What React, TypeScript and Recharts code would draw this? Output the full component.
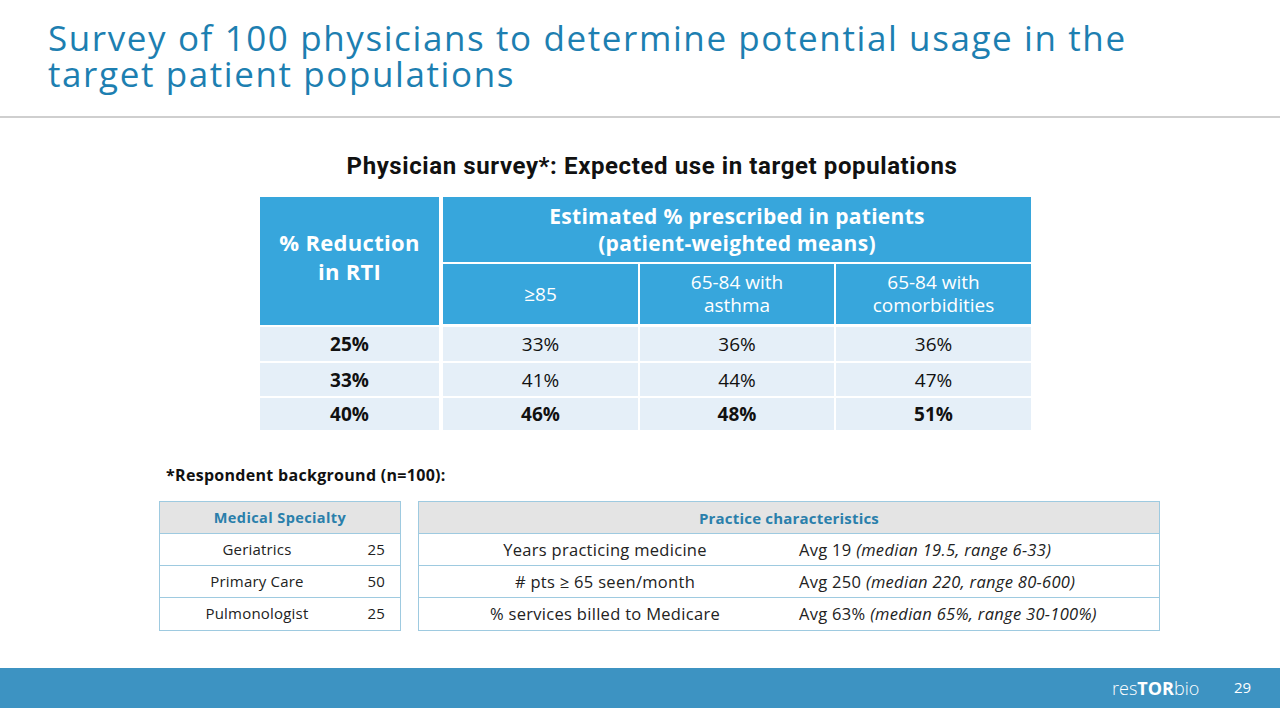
import React from 'react';
import { Surface } from 'recharts';

const titleLines = ['Survey of 100 physicians to determine potential usage in the', 'target patient populations'];
const rtiLevels = ['25%', '33%', '40%'];
const groups = ['≥85', '65-84 with\nasthma', '65-84 with\ncomorbidities'];
const prescribed = [
  ['33%', '36%', '36%'],
  ['41%', '44%', '47%'],
  ['46%', '48%', '51%'],
];
const specialties = ['Geriatrics', 'Primary Care', 'Pulmonologist'];
const specialtyCounts = [25, 50, 25];
const practiceLabels = ['Years practicing medicine', '# pts ≥ 65 seen/month', '% services billed to Medicare'];
const practiceAvg = ['Avg 19', 'Avg 250', 'Avg 63%'];
const practiceDetail = ['(median 19.5, range 6-33)', '(median 220, range 80-600)', '(median 65%, range 30-100%)'];

const FONT = '"Open Sans", Lato, sans-serif';
const BLUE_HEAD = '#37a6dc';
const ROW_BG = '#e5eff8';
const BORDER = '#9ecae0';

const colLeft = [260, 441, 638, 834];
const colW = [181, 197, 196, 197];
const dataTop = [325, 361, 396];
const dataH = [36, 35, 34];

function Cell({ x, y, w, h, bg, children, style }: any) {
  return (
    <div
      style={{
        position: 'absolute',
        left: x,
        top: y,
        width: w,
        height: h,
        background: bg,
        boxSizing: 'border-box',
        display: 'flex',
        alignItems: 'center',
        justifyContent: 'center',
        textAlign: 'center',
        whiteSpace: 'pre-line',
        ...style,
      }}
    >
      {children}
    </div>
  );
}

export default function App() {
  return (
    <div
      style={{
        position: 'absolute',
        left: 0,
        top: 0,
        width: 1280,
        height: 720,
        background: '#fff',
        fontFamily: FONT,
        overflow: 'hidden',
      }}
    >
      {/* title, one svg text block */}
      <div style={{ position: 'absolute', left: 0, top: 0 }}>
        <Surface width={1280} height={110}>
          <text fill="#1d7fb1" fontSize={35} fontFamily={FONT} letterSpacing={1.6}>
            {titleLines.map((t, i) => (
              <tspan key={i} x={48} y={51 + i * 36}>
                {t}
              </tspan>
            ))}
          </text>
        </Surface>
      </div>
      <div style={{ position: 'absolute', left: 0, top: 116, width: 1280, height: 2, background: '#cfcfcf' }} />

      <div
        style={{
          position: 'absolute',
          left: 0,
          width: 1304,
          top: 152,
          textAlign: 'center',
          fontSize: 24,
          fontWeight: 700,
          letterSpacing: 0.6,
          fontFamily: 'Roboto, sans-serif',
          color: '#111',
        }}
      >
        Physician survey*: Expected use in target populations
      </div>

      {/* main table header */}
      <Cell x={colLeft[0]} y={197} w={colW[0] - 2} h={128} bg={BLUE_HEAD}
        style={{ color: '#fff', fontWeight: 700, fontSize: 22, lineHeight: '29px', paddingBottom: 8, letterSpacing: 0.3 }}>
        {'% Reduction\nin RTI'}
      </Cell>
      <Cell x={colLeft[1] + 2} y={197} w={1031 - colLeft[1] - 2} h={65} bg={BLUE_HEAD}
        style={{ color: '#fff', fontWeight: 700, fontSize: 21, lineHeight: '27px', letterSpacing: 0.3 }}>
        {'Estimated % prescribed in patients\n(patient-weighted means)'}
      </Cell>
      {groups.map((g, i) => (
        <Cell key={g} x={colLeft[i + 1] + 2} y={264} w={colW[i + 1] - 2} h={60} bg={BLUE_HEAD}
          style={{ color: '#fff', fontSize: 19, lineHeight: '23px' }}>
          {g}
        </Cell>
      ))}
      {rtiLevels.map((r, ri) => (
        <React.Fragment key={r}>
          <Cell x={colLeft[0]} y={dataTop[ri] + 2} w={colW[0] - 2} h={dataH[ri] - 2} bg={ROW_BG}
            style={{ fontWeight: 700, fontSize: 19, color: '#111' }}>
            {r}
          </Cell>
          {prescribed[ri].map((v, ci) => (
            <Cell key={ci} x={colLeft[ci + 1] + 2} y={dataTop[ri] + 2} w={colW[ci + 1] - 2} h={dataH[ri] - 2} bg={ROW_BG}
              style={{ fontWeight: ri === 2 ? 700 : 400, fontSize: 19, color: '#111' }}>
              {v}
            </Cell>
          ))}
        </React.Fragment>
      ))}

      <div style={{ position: 'absolute', left: 166, top: 464, fontSize: 16, fontWeight: 700, color: '#111', letterSpacing: 0.3 }}>
        *Respondent background (n=100):
      </div>

      {/* medical specialty table */}
      <div style={{ position: 'absolute', left: 159, top: 501, width: 242, height: 130, border: `1px solid ${BORDER}`, boxSizing: 'border-box' }}>
        <div style={{ height: 32, background: '#e4e4e4', borderBottom: `1px solid ${BORDER}`, boxSizing: 'border-box', display: 'flex', alignItems: 'center', justifyContent: 'center', color: '#2a7fab', fontWeight: 700, fontSize: 14.5, letterSpacing: 0.4 }}>
          Medical Specialty
        </div>
        {specialties.map((s, i) => (
          <div key={s} style={{ position: 'relative', height: 32, borderBottom: i < 2 ? `1px solid ${BORDER}` : 'none', boxSizing: 'border-box', fontSize: 15, color: '#222', letterSpacing: 0.2 }}>
            <span style={{ position: 'absolute', left: 0, width: 194, textAlign: 'center', top: 5 }}>{s}</span>
            <span style={{ position: 'absolute', right: 15, top: 5 }}>{specialtyCounts[i]}</span>
          </div>
        ))}
      </div>

      {/* practice characteristics table */}
      <div style={{ position: 'absolute', left: 418, top: 501, width: 742, height: 130, border: `1px solid ${BORDER}`, boxSizing: 'border-box' }}>
        <div style={{ height: 32, background: '#e4e4e4', borderBottom: `1px solid ${BORDER}`, boxSizing: 'border-box', display: 'flex', alignItems: 'center', justifyContent: 'center', color: '#2a7fab', fontWeight: 700, fontSize: 15, letterSpacing: 0.2 }}>
          Practice characteristics
        </div>
        {practiceLabels.map((p, i) => (
          <div key={p} style={{ position: 'relative', height: 32, borderBottom: i < 2 ? `1px solid ${BORDER}` : 'none', boxSizing: 'border-box', fontSize: 16.5, color: '#222', letterSpacing: 0.3 }}>
            <span style={{ position: 'absolute', left: 0, width: 372, textAlign: 'center', top: 4 }}>{p}</span>
            <span style={{ position: 'absolute', left: 380, top: 4 }}>
              {practiceAvg[i]} <i>{practiceDetail[i]}</i>
            </span>
          </div>
        ))}
      </div>

      {/* footer */}
      <div style={{ position: 'absolute', left: 0, top: 668, width: 1280, height: 40, background: '#3d93c2' }} />
      <div style={{ position: 'absolute', left: 0, top: 668 }}>
        <Surface width={1280} height={40}>
          <text x={1112} y={27} fill="#fff" fontSize={18} fontFamily={FONT}>
            <tspan fontWeight={300}>res</tspan>
            <tspan fontWeight={700}>TOR</tspan>
            <tspan fontWeight={300}>bio</tspan>
          </text>
          <text x={1234} y={25} fill="#fff" fontSize={15} fontFamily={FONT}>
            29
          </text>
        </Surface>
      </div>
    </div>
  );
}
